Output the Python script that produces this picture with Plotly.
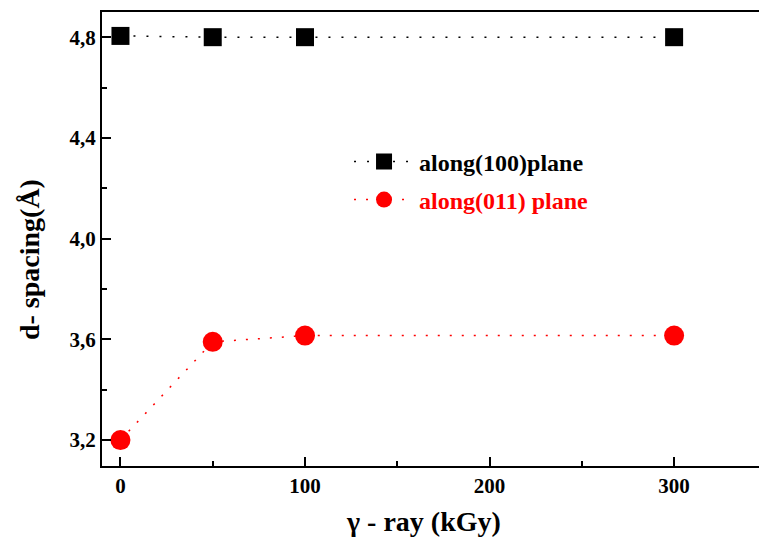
import plotly.graph_objects as go

dose = [0, 50, 100, 300]
d100 = [4.805, 4.80, 4.80, 4.80]
d011 = [3.20, 3.59, 3.615, 3.615]

ytick_vals = [3.2, 3.6, 4.0, 4.4, 4.8]
ytick_text = ["3,2", "3,6", "4,0", "4,4", "4,8"]
xtick_vals = [0, 100, 200, 300]
xtick_text = ["0", "100", "200", "300"]

serif = "Liberation Serif"

fig = go.Figure()
fig.add_trace(go.Scatter(
    x=dose, y=d100, mode="lines+markers", name="<b>along(100)plane</b>",
    line=dict(color="black", width=1.5, dash="2px,11px"),
    marker=dict(symbol="square", size=18, color="black"),
    legend="legend",
))
fig.add_trace(go.Scatter(
    x=dose, y=d011, mode="lines+markers",
    name="<b><span style='color:#ff0000'>along(011) plane</span></b>",
    line=dict(color="#ff0000", width=1.5, dash="2px,10px"),
    marker=dict(symbol="circle", size=20, color="#ff0000"),
    legend="legend2",
))

leg_common = dict(xanchor="left", yanchor="middle", bgcolor="rgba(0,0,0,0)",
                  font=dict(family=serif, size=24, color="black"), itemwidth=60)

fig.update_layout(
    width=759, height=537,
    margin=dict(l=102, r=0, t=12, b=71, autoexpand=False),
    paper_bgcolor="white", plot_bgcolor="white",
    font=dict(family=serif, color="black", size=21),
    showlegend=True,
    legend=dict(x=0.376, y=0.67, **leg_common),
    legend2=dict(x=0.376, y=0.586, **leg_common),
    xaxis=dict(
        range=[-10, 346], tickmode="array", tickvals=xtick_vals, ticktext=xtick_text,
        ticks="inside", ticklen=9, tickwidth=1.5, tickcolor="black",
        minor=dict(tickmode="array", tickvals=[50, 150, 250], ticks="inside", ticklen=5, tickwidth=1.5, tickcolor="black"),
        showline=True, linecolor="black", linewidth=2, mirror=True,
        showgrid=False, zeroline=False, automargin=False,
        tickfont=dict(family=serif, size=21, color="black", weight="bold"),
    ),
    yaxis=dict(
        range=[3.097, 4.90], tickmode="array", tickvals=ytick_vals, ticktext=ytick_text,
        ticks="inside", ticklen=9, tickwidth=1.5, tickcolor="black",
        minor=dict(tickmode="array", tickvals=[3.4, 3.8, 4.2, 4.6], ticks="inside", ticklen=5, tickwidth=1.5, tickcolor="black"),
        showline=True, linecolor="black", linewidth=2, mirror=False,
        showgrid=False, zeroline=False, automargin=False,
        tickfont=dict(family=serif, size=21, color="black", weight="bold"),
    ),
    annotations=[
        dict(text="<b>γ - ray (kGy)</b>", xref="paper", yref="paper", x=0.4886, y=-0.1233,
             xanchor="center", yanchor="middle", showarrow=False,
             font=dict(family=serif, size=28, color="black")),
        dict(text="<b>d- spacing(Å)</b>", xref="paper", yref="paper", x=-0.111, y=0.4537,
             xanchor="center", yanchor="middle", showarrow=False, textangle=-90,
             font=dict(family=serif, size=28, color="black")),
    ],
)

fig.write_html("out.html", config={"displayModeBar": False},
               post_script="document.body.style.margin='0';document.body.style.overflow='hidden';")
